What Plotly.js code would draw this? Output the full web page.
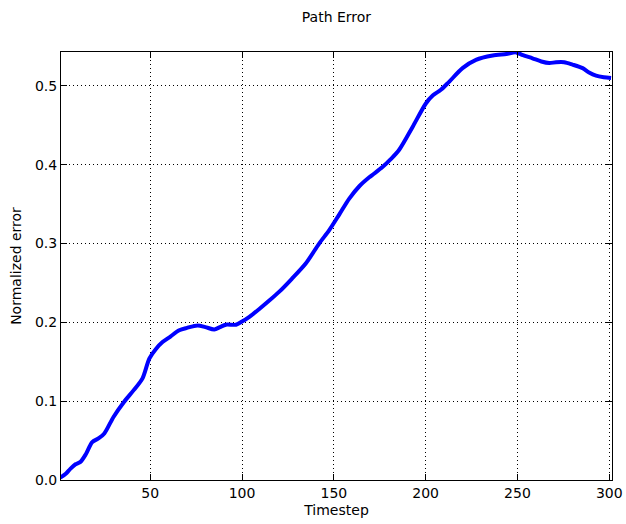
<!DOCTYPE html>
<html>
<head>
<meta charset="utf-8">
<script src="https://cdn.plot.ly/plotly-3.0.1.min.js"></script>
<style>html,body{margin:0;padding:0;background:#fff;}#chart{width:626px;height:524px;}</style>
</head>
<body>
<div id="chart"></div>
<script>
const timestep = [1,4,6.6,9.3,12,15,18.4,22,25,30,35.7,41,45.8,49.5,53,56.7,61,65.8,70,75.8,80,84.9,88,91.2,96.7,100,104,109.4,115,120.3,127,134.8,142,147.5,153,158.4,164,169.3,176.5,181,185.6,192.9,200.2,204,208.3,212.9,220.1,227.4,236.5,244,249.2,253,258.2,263,267.3,271,275.5,280,285.5,289,292.8,297,301];
const normError = [0.003,0.008,0.0145,0.020,0.023,0.033,0.048,0.053,0.059,0.080,0.099,0.114,0.129,0.154,0.166,0.175,0.182,0.190,0.193,0.196,0.194,0.191,0.194,0.197,0.197,0.201,0.207,0.217,0.228,0.239,0.255,0.275,0.300,0.317,0.337,0.357,0.373,0.384,0.397,0.407,0.419,0.448,0.478,0.488,0.495,0.5055,0.5225,0.533,0.5385,0.5405,0.5425,0.539,0.535,0.531,0.529,0.530,0.530,0.527,0.5225,0.517,0.513,0.511,0.510];
const xTicks = [50,100,150,200,250,300];
const yTicks = [0.0,0.1,0.2,0.3,0.4,0.5];

const font = {family: 'DejaVu Sans, sans-serif', size: 14, color: '#000'};
const axisCommon = {
  showline: true, linecolor: '#000', linewidth: 1, mirror: 'ticks',
  ticks: 'inside', ticklen: 6, tickcolor: '#000', tickwidth: 1,
  showgrid: true, gridcolor: '#000', gridwidth: 1, griddash: '1px,3px',
  zeroline: false, tickfont: font
};
Plotly.newPlot('chart', [{
  x: timestep, y: normError, type: 'scatter', mode: 'lines',
  line: {color: '#0000ff', width: 4, shape: 'spline', smoothing: 0.8}
}], {
  width: 626, height: 524,
  margin: {l: 61, r: 14, t: 52, b: 44},
  paper_bgcolor: '#fff', plot_bgcolor: '#fff',
  showlegend: false,
  title: {text: 'Path Error', font: {family: 'DejaVu Sans, sans-serif', size: 14, color: '#000'}, x: 0.5375, xanchor: 'center', y: 0.967, yanchor: 'middle'},
  xaxis: Object.assign({}, axisCommon, {range: [1.4, 301.5], tickvals: xTicks, ticktext: xTicks.map(String),
    title: {text: 'Timestep', font: font, standoff: 5}}),
  yaxis: Object.assign({}, axisCommon, {range: [0, 0.543], tickvals: yTicks, ticktext: yTicks.map(v => v.toFixed(1)),
    title: {text: 'Normalized error', font: font, standoff: 10}})
}, {staticPlot: true});
</script>
</body>
</html>
